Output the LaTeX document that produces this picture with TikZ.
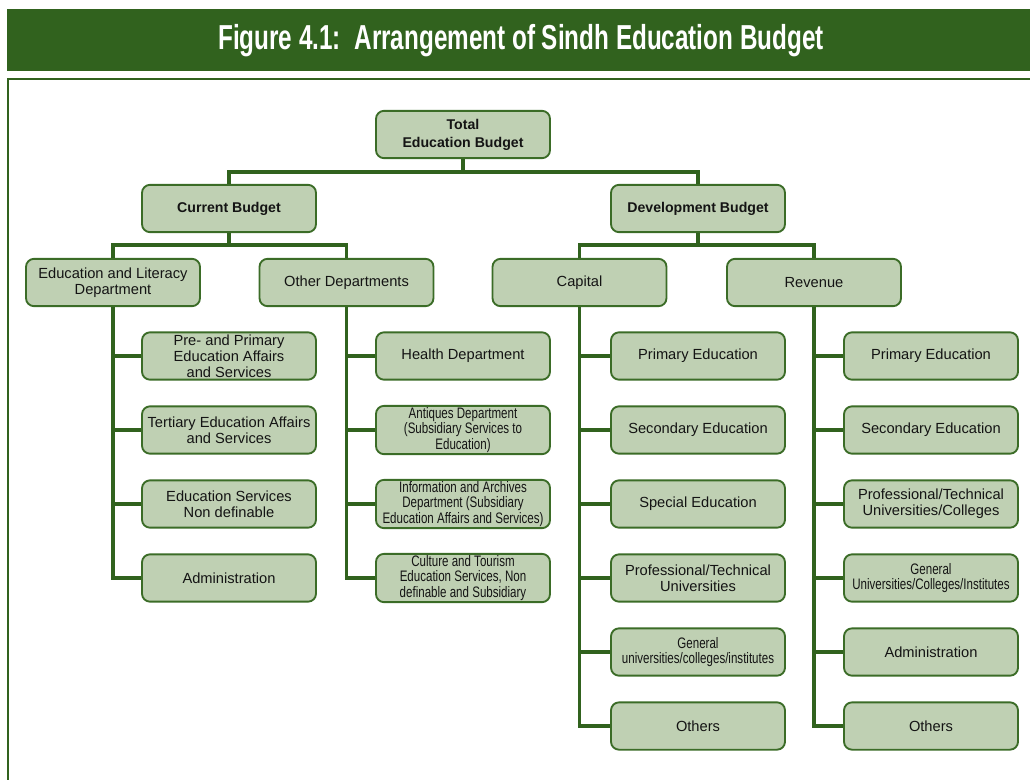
\documentclass[tikz,border=0pt]{standalone}
\usepackage{fontspec}
\setmainfont{Liberation Sans}
\newfontfamily\narrowfont[FakeStretch=0.76]{Liberation Sans}
\newfontfamily\titlefont[FakeStretch=0.7]{Liberation Sans}
\definecolor{darkgreen}{HTML}{31621E}
\definecolor{boxline}{HTML}{3B6C27}
\definecolor{boxfill}{HTML}{BFD0B3}
\definecolor{textgray}{HTML}{141414}
\begin{document}
\begin{tikzpicture}[x=0.75pt, y=-0.75pt,
    box/.style={draw=boxline, fill=boxfill, line width=1.4pt, rounded corners=6pt,
      minimum width=130.5pt, minimum height=35.5pt, align=center, inner sep=1pt,
      text=textgray, font=\fontsize{11}{12}\selectfont},
    head/.style={box, font=\bfseries\fontsize{10.6}{13.5}\selectfont},
    narrow/.style={box, font=\narrowfont\fontsize{11.4}{11.8}\selectfont},
    link/.style={draw=darkgreen, line width=2.7pt}]
  \useasboundingbox (0,0) rectangle (1030,779);
  \clip (0,0) rectangle (1030,779);

  % title bar and frame
  \fill[darkgreen] (7,9) rectangle (1030,71);
  \node[text=white, font=\titlefont\bfseries\fontsize{26}{30}\selectfont] (title) at (521,41)
    {Figure 4.1:\ \ Arrangement of Sindh Education Budget};
  \draw[darkgreen, line width=1.6pt] (8,800) -- (8,79) -- (1040,79);

  % top levels
  \node[head] (total) at (463,134.5) {Total\\Education Budget};
  \node[head] (cur) at (229,208.5) {Current Budget};
  \node[head] (dev) at (698,208.5) {Development Budget};

  \node[box] (edu) at (113,282.5) {Education and Literacy\\Department};
  \node[box] (oth) at (346.5,282.5) {Other Departments};
  \node[box] (cap) at (579.5,282.5) {Capital};
  \node[box] (rev) at (814,282.5) {Revenue};

  % current budget branches
  \node[box] (edu1) at (229,356) {Pre- and Primary\\Education Affairs\\and Services};
  \node[box] (edu2) at (229,430) {Tertiary Education Affairs\\and Services};
  \node[box] (edu3) at (229,504) {Education Services\\Non definable};
  \node[box] (edu4) at (229,578) {Administration};

  \node[box] (oth1) at (463,356) {Health Department};
  \node[narrow] (oth2) at (463,430) {Antiques Department\\(Subsidiary Services to\\Education)};
  \node[narrow] (oth3) at (463,504) {Information and Archives\\Department (Subsidiary\\Education Affairs and Services)};
  \node[narrow] (oth4) at (463,578) {Culture and Tourism\\Education Services, Non\\definable and Subsidiary};

  % development budget branches
  \node[box] (cap1) at (698,356) {Primary Education};
  \node[box] (cap2) at (698,430) {Secondary Education};
  \node[box] (cap3) at (698,504) {Special Education};
  \node[box] (cap4) at (698,578) {Professional/Technical\\Universities};
  \node[narrow] (cap5) at (698,652) {General\\universities/colleges/institutes};
  \node[box] (cap6) at (698,726) {Others};

  \node[box] (rev1) at (931,356) {Primary Education};
  \node[box] (rev2) at (931,430) {Secondary Education};
  \node[box] (rev3) at (931,504) {Professional/Technical\\Universities/Colleges};
  \node[narrow] (rev4) at (931,578) {General\\Universities/Colleges/Institutes};
  \node[box] (rev5) at (931,652) {Administration};
  \node[box] (rev6) at (931,726) {Others};

  % connectors
  \draw[link] (total.south) -- ++(0,13) -| (cur.north);
  \draw[link] (total.south) -- ++(0,13) -| (dev.north);
  \draw[link] (cur.south) -- ++(0,12) -| (edu.north);
  \draw[link] (cur.south) -- ++(0,12) -| (oth.north);
  \draw[link] (dev.south) -- ++(0,12) -| (cap.north);
  \draw[link] (dev.south) -- ++(0,12) -| (rev.north);

  \draw[link] (edu.south) |- (edu1.west);
  \draw[link] (edu.south) |- (edu2.west);
  \draw[link] (edu.south) |- (edu3.west);
  \draw[link] (edu.south) |- (edu4.west);

  \draw[link] (oth.south) |- (oth1.west);
  \draw[link] (oth.south) |- (oth2.west);
  \draw[link] (oth.south) |- (oth3.west);
  \draw[link] (oth.south) |- (oth4.west);

  \draw[link] (cap.south) |- (cap1.west);
  \draw[link] (cap.south) |- (cap2.west);
  \draw[link] (cap.south) |- (cap3.west);
  \draw[link] (cap.south) |- (cap4.west);
  \draw[link] (cap.south) |- (cap5.west);
  \draw[link] (cap.south) |- (cap6.west);

  \draw[link] (rev.south) |- (rev1.west);
  \draw[link] (rev.south) |- (rev2.west);
  \draw[link] (rev.south) |- (rev3.west);
  \draw[link] (rev.south) |- (rev4.west);
  \draw[link] (rev.south) |- (rev5.west);
  \draw[link] (rev.south) |- (rev6.west);
\end{tikzpicture}
\end{document}
